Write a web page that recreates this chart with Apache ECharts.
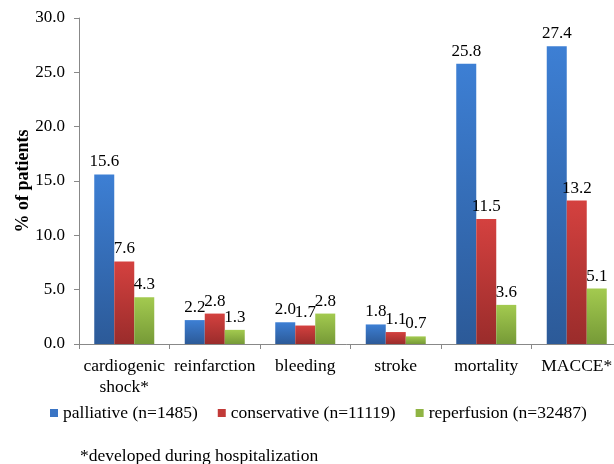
<!DOCTYPE html>
<html lang="en">
<head>
  <meta charset="UTF-8">
  <title>Outcomes</title>
  <script src="https://cdn.jsdelivr.net/npm/echarts@6/dist/echarts.min.js"></script>
  <style>
    html, body { margin: 0; padding: 0; background: #fff; }
  </style>
</head>
<body>
<div id="chart" style="width: 614px; height: 464px;"></div>
<script>
  var categories = ['cardiogenic\nshock*', 'reinfarction', 'bleeding', 'stroke', 'mortality', 'MACCE*'];
  var seriesNames = ['palliative (n=1485)', 'conservative (n=11119)', 'reperfusion (n=32487)'];
  var palliative = [15.6, 2.2, 2.0, 1.8, 25.8, 27.4];
  var conservative = [7.6, 2.8, 1.7, 1.1, 11.5, 13.2];
  var reperfusion = [4.3, 1.3, 2.8, 0.7, 3.6, 5.1];

  var font = 'Liberation Serif';

  function grad(top, bottom) {
    return new echarts.graphic.LinearGradient(0, 0, 0, 1, [
      { offset: 0, color: top },
      { offset: 1, color: bottom }
    ]);
  }
  var fills = [
    grad('#3d7fd4', '#2c5a98'),
    grad('#d4413f', '#9a2c2b'),
    grad('#a3ca4f', '#769a37')
  ];
  var legendColors = ['#3a74c4', '#c23a38', '#8fb443'];

  function makeSeries(name, data, i) {
    return {
      name: name,
      type: 'bar',
      data: data,
      barWidth: 20,
      barGap: '0%',
      itemStyle: { color: fills[i] },
      label: {
        show: true,
        position: 'top',
        distance: 4,
        color: '#000',
        fontFamily: font,
        fontSize: 17,
        formatter: function (p) { return p.value.toFixed(1); }
      }
    };
  }

  var chart = echarts.init(document.getElementById('chart'));
  chart.setOption({
    animation: false,
    color: legendColors,
    grid: { left: 79, right: -8, top: 18, bottom: 120, containLabel: false, outerBoundsMode: 'none' },
    legend: {
      top: 399,
      left: 45,
      itemWidth: 8,
      itemHeight: 8,
      itemGap: 20,
      icon: 'rect',
      textStyle: { fontFamily: font, fontSize: 17.5, color: '#000' },
      data: seriesNames.map(function (n, i) { return { name: n, itemStyle: { color: legendColors[i] } }; })
    },
    xAxis: {
      type: 'category',
      data: categories,
      axisLine: { lineStyle: { color: '#888' } },
      axisTick: { show: true, alignWithLabel: false, length: 5, lineStyle: { color: '#888' } },
      axisLabel: { fontFamily: font, fontSize: 17.5, color: '#000', margin: 12, lineHeight: 21, interval: 0 }
    },
    yAxis: {
      type: 'value',
      min: 0,
      max: 30,
      interval: 5,
      name: '% of patients',
      nameLocation: 'middle',
      nameGap: 47,
      nameMoveOverlap: false,
      nameTextStyle: { fontFamily: font, fontSize: 18, fontWeight: 'bold', color: '#000' },
      splitLine: { show: false },
      axisLine: { show: true, lineStyle: { color: '#888' } },
      axisTick: { show: true, length: 5, lineStyle: { color: '#888' } },
      axisLabel: {
        fontFamily: font, fontSize: 17, color: '#000', margin: 14,
        formatter: function (v) { return v.toFixed(1); }
      }
    },
    graphic: [{
      type: 'text',
      left: 80,
      top: 447,
      style: { text: '*developed during hospitalization', fontFamily: font, fontSize: 17.5, fill: '#000' }
    }],
    series: [
      makeSeries(seriesNames[0], palliative, 0),
      makeSeries(seriesNames[1], conservative, 1),
      makeSeries(seriesNames[2], reperfusion, 2)
    ]
  });
</script>
</body>
</html>
